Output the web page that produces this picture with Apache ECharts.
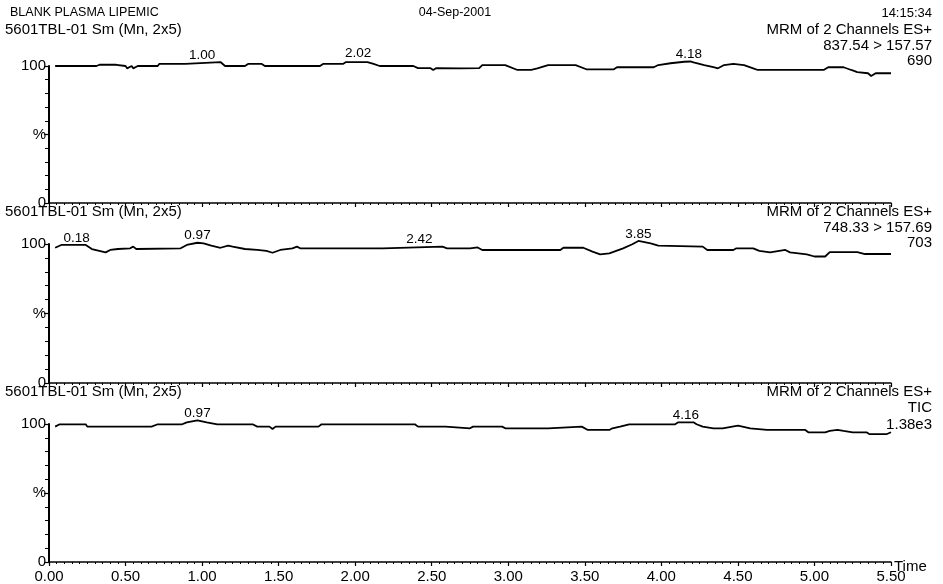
<!DOCTYPE html>
<html>
<head>
<meta charset="utf-8">
<script src="https://cdn.jsdelivr.net/npm/echarts/dist/echarts.min.js"></script>
<style>
html,body{margin:0;padding:0;background:#fff;}
#chart{width:943px;height:584px;}
</style>
</head>
<body>
<div id="chart"></div>
<script>
// ---- Data (retention time in minutes, relative intensity %) ----
const time1 = [0.04,0.31,0.33,0.44,0.50,0.51,0.54,0.55,0.58,0.71,0.72,0.89,0.90,1.12,1.15,1.28,1.30,1.39,1.41,1.77,1.79,1.92,1.94,2.02,2.03,2.08,2.12,2.16,2.38,2.41,2.49,2.51,2.53,2.69,2.81,2.83,2.98,3.06,3.15,3.19,3.26,3.44,3.51,3.69,3.71,3.95,3.98,4.06,4.15,4.19,4.21,4.28,4.34,4.37,4.41,4.47,4.54,4.60,4.63,4.85,4.86,4.87,5.06,5.09,5.19,5.24,5.28,5.35,5.37,5.40,5.50];
const pct1  = [100.0,100.0,100.9,100.9,100.0,98.3,100.0,98.3,100.0,100.0,101.5,101.5,102.9,102.9,100.0,100.0,101.5,101.5,100.0,100.0,101.5,101.5,102.9,102.9,103.9,102.9,101.5,100.0,100.0,98.5,98.5,97.1,98.5,98.3,98.5,100.7,100.7,97.1,97.1,98.3,100.7,100.7,97.6,97.6,99.1,99.1,100.7,102.0,103.1,103.3,102.6,100.7,99.1,98.3,100.7,101.5,100.7,98.3,97.1,97.1,98.2,97.1,97.1,99.1,99.1,97.1,95.6,94.7,92.7,94.7,94.7];

const time2 = [0.04,0.08,0.24,0.28,0.37,0.40,0.45,0.53,0.55,0.57,0.86,0.90,0.97,1.01,1.06,1.12,1.17,1.20,1.28,1.36,1.42,1.46,1.51,1.59,1.62,1.64,2.18,2.19,2.57,2.60,2.75,2.80,2.83,3.34,3.36,3.49,3.55,3.60,3.66,3.75,3.81,3.85,3.93,3.98,3.99,4.27,4.30,4.47,4.49,4.60,4.64,4.71,4.81,4.84,4.95,5.00,5.07,5.10,5.28,5.33,5.50];
const pct2  = [97.3,99.3,99.3,96.4,94.0,95.7,96.4,96.9,98.1,96.4,96.9,99.3,100.9,100.5,98.8,97.3,98.8,98.1,96.4,95.7,95.0,93.7,95.7,96.9,98.1,96.9,96.9,98.1,98.1,96.9,96.9,97.5,95.7,95.7,97.3,97.3,94.5,92.6,93.3,96.9,99.8,102.2,100.5,98.8,98.1,98.1,95.7,95.7,96.9,96.9,95.0,94.0,95.7,94.0,92.6,91.0,91.0,94.2,94.2,92.8,92.8];

const time3 = [0.04,0.07,0.24,0.25,0.67,0.71,0.87,0.90,0.97,1.03,1.10,1.33,1.36,1.44,1.46,1.48,1.76,1.78,2.39,2.41,2.59,2.60,2.75,2.77,2.96,2.98,3.26,3.27,3.48,3.52,3.66,3.68,3.73,3.79,4.09,4.11,4.21,4.23,4.27,4.34,4.40,4.41,4.50,4.53,4.58,4.69,4.94,4.96,5.07,5.10,5.15,5.19,5.25,5.34,5.36,5.47,5.50];
const pct3  = [98.1,99.8,99.8,98.1,98.1,99.8,99.8,101.2,102.7,101.2,99.8,99.8,98.1,98.1,96.4,98.1,98.1,99.8,99.8,98.1,98.1,96.9,96.9,98.1,98.1,96.9,96.9,98.1,98.1,95.7,95.7,96.9,98.1,99.8,99.8,101.2,101.2,99.8,98.1,96.9,96.9,98.1,98.8,98.1,96.9,95.7,95.7,94.0,94.0,95.0,95.7,95.0,94.0,94.0,92.6,92.6,94.0];

// labelled peak retention times
const peaks1 = [1.00, 2.02, 4.18];
const peaks2 = [0.18, 0.97, 2.42, 3.85];
const peaks3 = [0.97, 4.16];

// tick labels
const xTickLabels = ['0.00','0.50','1.00','1.50','2.00','2.50','3.00','3.50','4.00','4.50','5.00','5.50'];

// header / panel texts
const headerLeft = 'BLANK PLASMA LIPEMIC';
const headerMid = '04-Sep-2001';
const headerRight = '14:15:34';
const panelTitle = '5601TBL-01 Sm (Mn, 2x5)';
const panelMode = 'MRM of 2 Channels ES+';
const panelChannel = ['837.54 > 157.57', '748.33 > 157.69', 'TIC'];
const panelScale = ['690', '703', '1.38e3'];

// ---- Chart ----
const FONT = '"Liberation Sans", Arial, Helvetica, sans-serif';
const gridsPos = [{top:66,height:137},{top:244,height:139},{top:424,height:139}];
const times = [time1, time2, time3];
const pcts = [pct1, pct2, pct3];
const peaks = [peaks1, peaks2, peaks3];

// height of the trace at a labelled peak (for placing its label above the trace)
function peakVal(ts, vs, t) {
  let m = -Infinity;
  for (let i = 0; i < ts.length; i++) {
    if (Math.abs(ts[i] - t) <= 0.06) m = Math.max(m, vs[i]);
    if (i > 0 && ts[i - 1] <= t && ts[i] >= t) {
      const f = (t - ts[i - 1]) / (ts[i] - ts[i - 1] || 1);
      m = Math.max(m, vs[i - 1] + f * (vs[i] - vs[i - 1]));
    }
  }
  return m;
}

const grid = gridsPos.map(g => ({left:49, right:52, top:g.top, height:g.height}));
const xAxis = gridsPos.map((g, i) => ({
  type:'value', gridIndex:i, min:0, max:5.5, interval:0.5,
  axisLine:{show:true, onZero:false, lineStyle:{color:'#000', width:1.5}},
  axisTick:{show:true, length:4, lineStyle:{color:'#000', width:1.2}},
  minorTick:{show:true, splitNumber:10, length:2, lineStyle:{color:'#000', width:1}},
  splitLine:{show:false}, minorSplitLine:{show:false},
  axisLabel:{show:i===2, color:'#000', fontSize:15, fontFamily:FONT, margin:7,
    formatter:(v)=>xTickLabels[Math.round(v/0.5)] || ''}
}));
const yAxis = gridsPos.map((g, i) => ({
  type:'value', gridIndex:i, min:0, max:100, interval:50,
  axisLine:{show:true, lineStyle:{color:'#000', width:2}},
  axisTick:{show:true, length:5, lineStyle:{color:'#000', width:1.2}},
  minorTick:{show:true, splitNumber:5, length:4, lineStyle:{color:'#000', width:1}},
  splitLine:{show:false},
  axisLabel:{color:'#000', fontSize:15, fontFamily:FONT, margin:3,
    formatter:(v)=> v===50 ? '%' : String(v)}
}));
const series = times.map((ts, i) => ({
  type:'line', xAxisIndex:i, yAxisIndex:i, clip:false,
  showSymbol:false, symbol:'none', animation:false,
  lineStyle:{color:'#000', width:1.8},
  data: ts.map((t, k) => [t, pcts[i][k]]),
  markPoint:{
    symbol:'circle', symbolSize:0, animation:false, silent:true,
    label:{show:true, position:'top', distance:0, color:'#000', fontSize:13.5, fontFamily:FONT,
      formatter:(p)=>p.name},
    data: peaks[i].map(t => {
      const v = peakVal(ts, pcts[i], t);
      const over = Math.max(0, v - 100) * gridsPos[i].height / 100;
      return {name:t.toFixed(2), coord:[t, Math.min(v, 100)], label:{offset:[0, -over]}};
    })
  }
}));

function txt(text, x, y, align, size) {
  return {type:'text', x:x, y:y, silent:true,
    style:{text:text, x:0, y:0, fill:'#000', font: size + 'px ' + FONT,
      align:align, verticalAlign:'middle', textAlign:align, textVerticalAlign:'middle'}};
}
const graphics = [
  txt(headerLeft, 10, 13, 'left', 12.5),
  txt(headerMid, 455, 13, 'center', 12.5),
  txt(headerRight, 932, 13, 'right', 13)
];
const titleY = [30, 212, 392];
const chanY = [46, 228, 408];
const scaleY = [61, 243, 425];
for (let i = 0; i < 3; i++) {
  graphics.push(txt(panelTitle, 5, titleY[i], 'left', 15));
  graphics.push(txt(panelMode, 932, titleY[i], 'right', 15));
  graphics.push(txt(panelChannel[i], 932, chanY[i], 'right', 15));
  graphics.push(txt(panelScale[i], 932, scaleY[i], 'right', 15));
}
graphics.push(txt('Time', 894, 567, 'left', 15));

const chart = echarts.init(document.getElementById('chart'), null, {renderer:'canvas'});
chart.setOption({
  backgroundColor:'#fff',
  animation:false,
  grid, xAxis, yAxis, series,
  graphic: graphics
});
</script>
</body>
</html>
